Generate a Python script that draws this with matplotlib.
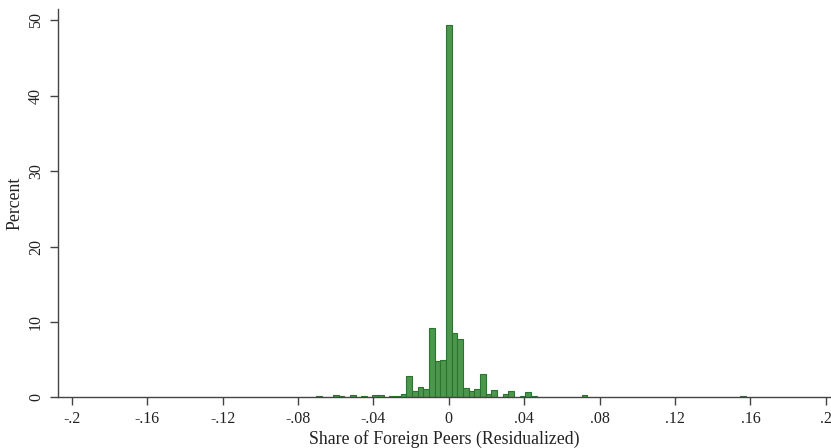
import matplotlib
matplotlib.use("Agg")
import matplotlib.pyplot as plt

plt.rcParams['font.family'] = ['Liberation Serif', 'DejaVu Serif']

# histogram of residualized foreign-peer share, bin width .003
bin_width = 0.003
bin_index = [-23, -20, -19, -17, -15, -13, -12, -10, -9, -8, -7, -6, -5, -4,
             -3, -2, -1, 0, 1, 2, 3, 4, 5, 6, 7, 8, 10, 11, 13, 14, 15, 24, 52]
percent = [0.15, 0.25, 0.15, 0.25, 0.18, 0.35, 0.35, 0.2, 0.2, 0.4, 2.77, 0.88,
           1.3, 1.1, 9.2, 4.75, 4.97, 49.4, 8.5, 7.78, 1.19, 0.88, 1.1, 3.07,
           0.4, 1.0, 0.4, 0.88, 0.15, 0.75, 0.15, 0.25, 0.15]
x_ticks = [-0.2, -0.16, -0.12, -0.08, -0.04, 0, 0.04, 0.08, 0.12, 0.16, 0.2]
x_tick_labels = ['-.2', '-.16', '-.12', '-.08', '-.04', '0', '.04', '.08',
                 '.12', '.16', '.2']
y_ticks = [0, 10, 20, 30, 40, 50]

centers = [k * bin_width for k in bin_index]

fig = plt.figure(figsize=(8.31, 4.48), dpi=100)
ax = fig.add_axes([58 / 831, 50.7 / 448, 1 - 58 / 831, (397.3 - 9) / 448])

ax.bar(centers, percent, width=bin_width, color='#4d964d',
       edgecolor='#2b742b', linewidth=0.8, align='center')

ax.set_xlim(-0.2073, 0.2027)
ax.set_ylim(0, 51.5)
ax.set_xticks(x_ticks)
ax.set_xticklabels(x_tick_labels)
ax.set_yticks(y_ticks)
for lbl in ax.get_yticklabels():
    lbl.set_rotation(90)
    lbl.set_va('center')

ax.spines['top'].set_visible(False)
ax.spines['right'].set_visible(False)
for s in ('left', 'bottom'):
    ax.spines[s].set_color('#444444')
    ax.spines[s].set_linewidth(1.0)
ax.tick_params(axis='both', direction='out', length=6, width=1.0,
               color='#444444', labelsize=11.5, labelcolor='#222222', pad=4)

ax.set_xlabel('Share of Foreign Peers (Residualized)', fontsize=12.8,
              color='#222222', labelpad=2)
ax.set_ylabel('Percent', fontsize=12.8, color='#222222', labelpad=3)

fig.savefig('out.png', dpi=100)
